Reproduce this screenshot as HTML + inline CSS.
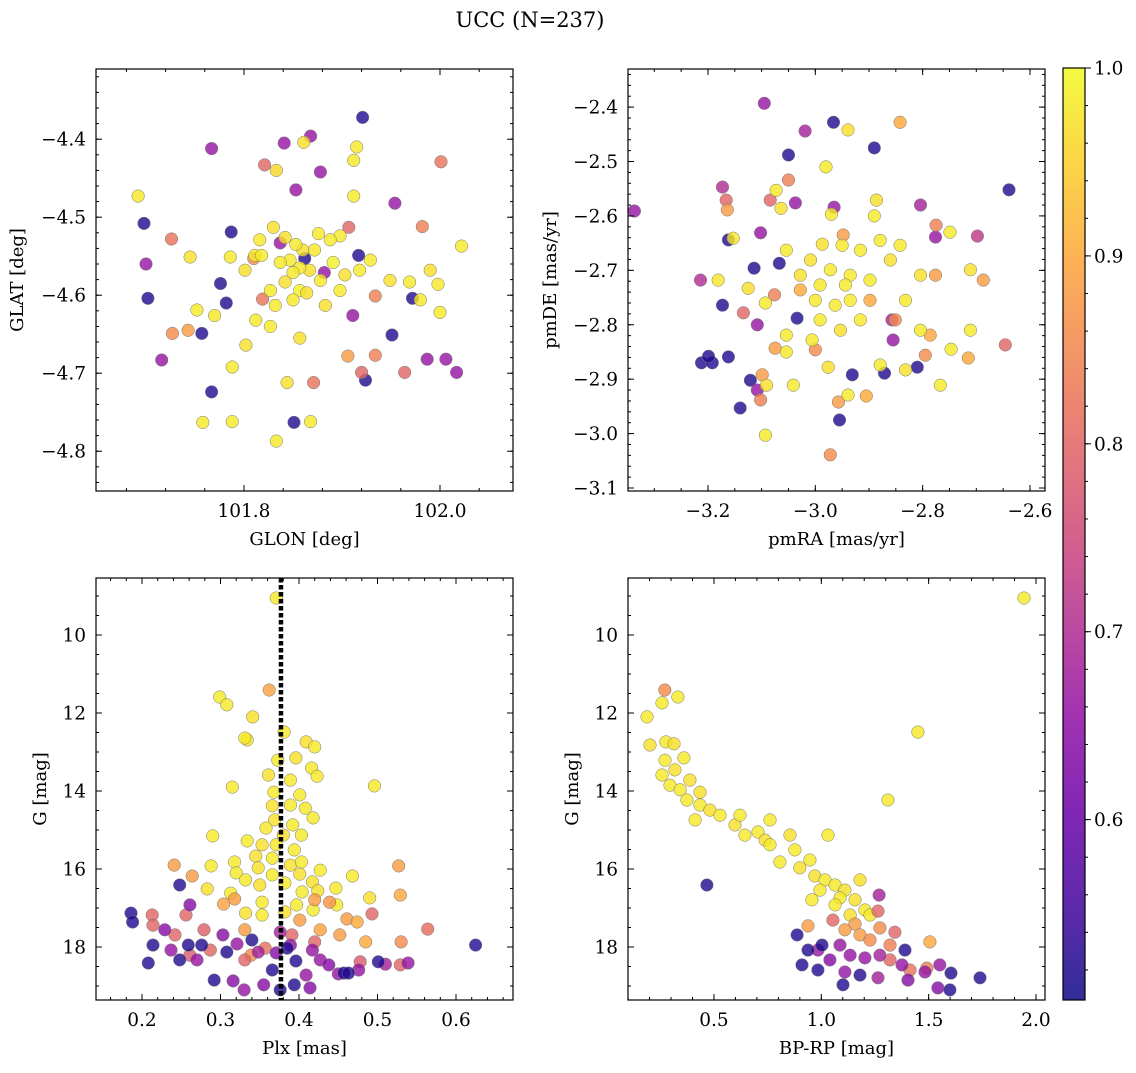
<!DOCTYPE html>
<html><head><meta charset="utf-8"><style>
html,body{margin:0;padding:0;background:#fff;}
svg text{font-family:"DejaVu Serif","Liberation Serif",serif;fill:#000;}
</style></head><body>
<svg id="fig" width="1136" height="1068" viewBox="0 0 1136 1068" xmlns="http://www.w3.org/2000/svg">
<defs>
<linearGradient id="cbgrad" x1="0" y1="1" x2="0" y2="0"></linearGradient>
</defs>
<text x="530" y="27" font-size="21" text-anchor="middle">UCC (N=237)</text>
</svg>
<script>
// ---------- data: top-left GLON/GLAT ----------
const glonTL=[101.921,101.698,101.702,101.787,101.776,101.757,101.767,101.851,101.917,101.924,101.972,101.951,101.862,101.782,
101.767,101.868,101.841,101.853,101.700,101.716,101.878,101.954,101.911,101.987,102.006,102.017,101.882,101.837,
101.821,101.726,101.907,102.001,101.982,101.871,101.920,101.934,101.819,101.727,101.964,101.934,101.906,101.810,101.743,
101.692,101.915,101.912,101.861,101.833,101.912,101.830,101.786,101.745,101.752,101.770,101.802,101.811,101.827,101.842,101.847,101.857,101.867,101.872,101.878,101.883,101.898,101.903,101.918,101.929,101.949,101.969,101.980,101.990,101.998,102.022,102.000,101.827,101.857,101.788,101.758,101.788,101.833,101.868,101.844,101.898,101.842,101.818,101.850,101.860,101.876,101.891,101.832,101.857,101.850,101.864,101.837,101.816,101.853,101.888,101.801,101.812];
const glatTL=[-4.372,-4.508,-4.604,-4.519,-4.585,-4.649,-4.724,-4.763,-4.549,-4.709,-4.604,-4.651,-4.553,-4.610,
-4.412,-4.396,-4.405,-4.465,-4.560,-4.683,-4.442,-4.482,-4.626,-4.682,-4.682,-4.699,-4.571,-4.533,
-4.433,-4.528,-4.513,-4.429,-4.512,-4.712,-4.699,-4.677,-4.605,-4.649,-4.699,-4.601,-4.678,-4.553,-4.645,
-4.473,-4.410,-4.427,-4.404,-4.440,-4.473,-4.513,-4.551,-4.551,-4.619,-4.626,-4.664,-4.549,-4.594,-4.583,-4.555,-4.594,-4.568,-4.542,-4.581,-4.613,-4.594,-4.574,-4.568,-4.555,-4.581,-4.583,-4.606,-4.568,-4.586,-4.537,-4.622,-4.640,-4.655,-4.692,-4.763,-4.762,-4.787,-4.762,-4.712,-4.524,-4.526,-4.549,-4.606,-4.542,-4.521,-4.558,-4.613,-4.565,-4.571,-4.597,-4.558,-4.529,-4.535,-4.529,-4.568,-4.632];
const probTL=[0.52,0.52,0.52,0.52,0.52,0.52,0.52,0.52,0.52,0.52,0.52,0.52,0.52,0.52,
0.66,0.66,0.66,0.66,0.66,0.66,0.66,0.66,0.66,0.66,0.66,0.66,0.66,0.66,
0.80,0.82,0.80,0.82,0.84,0.82,0.80,0.84,0.82,0.86,0.80,0.84,0.88,0.86,0.88,
0.98,0.98,0.98,0.97,0.96,0.98,0.97,0.98,0.97,0.98,0.98,0.97,0.98,0.98,0.97,0.98,0.99,0.97,0.98,0.98,0.97,0.98,0.97,0.98,0.98,0.97,0.98,0.98,0.97,0.98,0.98,0.98,0.98,0.97,0.98,0.98,0.98,0.98,0.98,0.97,0.98,0.97,0.98,0.98,0.97,0.98,0.99,0.98,0.98,0.98,0.97,0.98,0.98,0.98,0.98,0.97,0.98];
// ---------- data: top-right pmRA/pmDE ----------
const pmraTR=[-2.639,-2.966,-3.050,-2.890,-3.162,-3.173,-3.067,-3.114,-3.212,-3.192,-3.140,-3.034,-2.955,-2.931,-2.871,-2.810,-3.199,-3.162,-3.121,
-3.337,-3.095,-3.019,-3.037,-2.965,-3.173,-3.102,-3.108,-2.804,-2.776,-2.698,-3.108,-2.855,-2.857,-3.214,
-2.842,-2.939,-3.050,-3.084,-3.166,-3.164,-2.775,-2.776,-2.687,-2.646,-3.134,-3.076,-3.099,-3.102,-2.972,-2.957,-2.905,-2.795,-2.786,-3.075,-3.000,-3.028,-2.948,-2.898,-2.851,-2.715,
-2.980,-3.073,-3.064,-2.970,-2.890,-2.886,-3.153,-3.181,-3.125,-3.093,-3.054,-3.054,-3.091,-3.093,-3.041,-2.976,-2.939,-2.879,-2.832,-2.767,-2.747,-2.711,-2.711,-2.804,-2.832,-2.804,-2.842,-2.749,-2.987,-2.950,-2.916,-3.009,-2.972,-2.935,-2.898,-3.028,-3.000,-2.963,-2.935,-2.916,-2.953,-2.991,-2.879,-2.860,-3.054,-2.991,-2.944,-3.006];
const pmdeTR=[-2.552,-2.428,-2.488,-2.475,-2.644,-2.764,-2.687,-2.696,-2.870,-2.870,-2.953,-2.788,-2.975,-2.892,-2.889,-2.878,-2.858,-2.859,-2.902,
-2.591,-2.393,-2.444,-2.576,-2.584,-2.547,-2.631,-2.800,-2.580,-2.639,-2.637,-2.920,-2.828,-2.791,-2.718,
-2.428,-2.442,-2.534,-2.571,-2.571,-2.589,-2.617,-2.709,-2.718,-2.837,-2.778,-2.745,-2.892,-2.938,-3.039,-2.942,-2.931,-2.856,-2.819,-2.843,-2.846,-2.736,-2.635,-2.755,-2.791,-2.861,
-2.510,-2.553,-2.586,-2.597,-2.600,-2.571,-2.641,-2.718,-2.733,-2.760,-2.819,-2.850,-2.911,-3.003,-2.911,-2.878,-2.929,-2.874,-2.883,-2.911,-2.845,-2.699,-2.810,-2.810,-2.755,-2.709,-2.654,-2.630,-2.652,-2.654,-2.663,-2.681,-2.699,-2.709,-2.718,-2.709,-2.755,-2.764,-2.755,-2.791,-2.810,-2.791,-2.645,-2.681,-2.663,-2.727,-2.727,-2.828];
const probTR=[0.52,0.52,0.52,0.52,0.52,0.52,0.52,0.52,0.52,0.52,0.52,0.52,0.52,0.52,0.52,0.52,0.52,0.52,0.52,
0.66,0.66,0.68,0.66,0.66,0.70,0.66,0.66,0.68,0.66,0.72,0.66,0.66,0.68,0.70,
0.90,0.97,0.84,0.80,0.80,0.88,0.84,0.88,0.88,0.80,0.80,0.84,0.88,0.84,0.86,0.88,0.90,0.86,0.90,0.88,0.86,0.90,0.88,0.90,0.86,0.90,
0.98,0.98,0.97,0.98,0.98,0.97,0.98,0.98,0.97,0.98,0.98,0.98,0.97,0.98,0.98,0.97,0.98,0.98,0.97,0.98,0.98,0.97,0.98,0.98,0.98,0.97,0.98,0.98,0.97,0.98,0.98,0.97,0.98,0.98,0.98,0.97,0.98,0.98,0.98,0.98,0.97,0.98,0.98,0.97,0.98,0.98,0.98,0.98];
// ---------- data: bottom-left Plx/G ----------
const plxBL=[0.371,0.299,0.308,0.341,0.334,0.331,0.381,0.409,0.420,0.315,0.496,0.373,0.396,0.416,0.423,0.361,0.389,0.368,0.401,0.366,0.389,0.408,0.418,0.369,0.392,0.358,0.380,0.403,0.334,0.290,0.353,0.371,0.394,0.345,0.366,0.318,0.389,0.403,0.288,0.348,0.320,0.366,0.401,0.427,0.332,0.350,0.382,0.417,0.447,0.468,0.283,0.313,0.404,0.424,0.353,0.397,0.490,0.418,0.448,0.382,0.353,0.332,
0.362,0.529,0.485,0.241,0.264,0.318,0.304,0.420,0.439,0.461,0.474,0.401,0.427,0.452,0.527,0.530,0.331,0.339,
0.256,0.213,0.214,0.279,0.564,0.493,0.529,0.287,0.331,0.357,0.391,0.420,0.261,0.242,0.478,
0.229,0.237,0.261,0.270,0.321,0.303,0.348,0.371,0.389,0.427,0.438,0.450,0.409,0.414,0.476,0.510,0.539,0.376,0.417,0.355,0.330,0.316,
0.186,0.188,0.214,0.208,0.248,0.248,0.259,0.276,0.292,0.308,0.340,0.366,0.396,0.457,0.463,0.501,0.385,0.394,0.376,0.625];
const gBL=[9.05,11.59,11.79,12.10,12.69,12.64,12.49,12.74,12.87,13.90,13.87,13.21,13.15,13.41,13.62,13.59,13.72,14.03,14.10,14.38,14.36,14.44,14.69,14.74,14.87,14.95,15.13,15.13,15.28,15.15,15.38,15.38,15.51,15.67,15.72,15.82,15.90,15.82,15.92,15.97,16.10,16.15,16.13,16.03,16.28,16.41,16.36,16.33,16.49,16.18,16.51,16.62,16.59,16.56,16.85,16.92,16.74,17.05,16.92,17.10,17.18,17.13,
11.41,16.67,17.87,15.90,16.18,16.77,16.90,16.79,16.85,17.28,17.36,17.31,17.56,17.69,15.92,17.87,17.56,18.21,
17.18,17.18,17.44,17.56,17.54,17.15,18.46,18.08,18.33,18.03,17.69,17.87,18.21,17.69,18.38,
17.56,18.08,16.92,18.33,17.92,17.69,18.13,18.15,17.95,18.33,18.46,18.69,18.72,19.05,18.59,18.44,18.41,17.62,18.08,18.97,19.10,18.87,
17.13,17.36,17.95,18.41,16.41,18.33,17.95,17.95,18.85,18.13,17.82,18.59,18.36,18.67,18.67,18.38,18.03,18.97,19.10,17.95];
const probBL=[0.98,0.98,0.98,0.97,0.98,0.98,0.98,0.97,0.98,0.98,0.98,0.98,0.97,0.98,0.98,0.97,0.98,0.98,0.98,0.97,0.98,0.98,0.98,0.97,0.98,0.98,0.97,0.98,0.98,0.98,0.97,0.98,0.98,0.97,0.98,0.98,0.97,0.98,0.98,0.97,0.98,0.98,0.97,0.98,0.98,0.97,0.98,0.97,0.98,0.98,0.97,0.98,0.98,0.97,0.98,0.98,0.97,0.98,0.98,0.97,0.98,0.97,
0.89,0.90,0.90,0.88,0.88,0.88,0.89,0.88,0.87,0.88,0.90,0.88,0.89,0.88,0.88,0.86,0.88,0.86,
0.80,0.80,0.80,0.79,0.81,0.80,0.80,0.80,0.80,0.82,0.80,0.80,0.78,0.80,0.78,
0.64,0.66,0.64,0.66,0.66,0.64,0.68,0.64,0.66,0.66,0.64,0.66,0.66,0.64,0.66,0.68,0.66,0.68,0.66,0.64,0.66,0.64,
0.52,0.52,0.52,0.52,0.52,0.52,0.52,0.52,0.52,0.52,0.52,0.52,0.52,0.52,0.52,0.52,0.52,0.52,0.52,0.52];
const plxMean=0.377;
// ---------- data: bottom-right BP-RP/G ----------
const bprpBR=[1.944,1.450,1.310,0.188,0.202,0.332,0.258,0.276,0.314,0.272,0.258,0.318,0.295,0.342,0.388,0.374,0.435,0.481,0.412,0.528,0.598,0.644,0.705,0.738,0.621,0.761,0.854,0.877,0.807,0.900,0.947,1.031,0.970,1.017,1.064,1.110,0.994,1.087,1.157,1.203,1.227,1.134,1.064,0.956,0.435,0.360,0.761,1.180,
0.271,1.506,0.938,1.157,1.264,1.180,1.227,1.320,1.343,1.110,1.054,1.273,1.320,1.413,1.492,
1.269,0.984,1.087,1.040,1.134,1.203,1.273,1.376,1.404,1.483,1.543,1.552,1.264,1.110,
0.467,0.887,0.910,0.984,1.101,1.180,1.604,1.599,1.739,1.390,1.003,0.938];
const gBR=[9.05,12.49,14.23,12.10,12.82,11.59,11.74,12.74,12.79,13.21,13.59,13.46,13.85,13.97,13.72,14.23,14.36,14.49,14.74,14.62,14.87,15.13,15.05,15.26,14.62,15.38,15.13,15.51,15.82,15.97,15.77,15.13,16.18,16.28,16.41,16.54,16.54,16.74,16.79,17.05,17.18,17.18,16.92,16.79,14.03,13.15,14.74,16.28,
11.41,17.87,17.46,17.41,17.08,17.69,17.82,17.95,17.62,17.56,17.31,17.51,18.33,18.59,18.54,
16.67,18.08,17.95,18.33,18.21,18.28,18.21,18.46,18.85,18.64,19.05,18.46,18.79,18.64,
16.41,17.69,18.46,18.59,18.97,18.72,18.67,19.10,18.79,18.08,17.95,18.08];
const probBR=[0.98,0.98,0.98,0.98,0.97,0.98,0.98,0.98,0.97,0.98,0.98,0.97,0.98,0.98,0.97,0.98,0.98,0.97,0.98,0.98,0.97,0.98,0.98,0.97,0.98,0.98,0.97,0.98,0.98,0.97,0.98,0.98,0.97,0.98,0.98,0.97,0.98,0.98,0.97,0.98,0.98,0.97,0.98,0.98,0.97,0.98,0.98,0.97,
0.86,0.90,0.88,0.88,0.80,0.88,0.86,0.84,0.80,0.88,0.80,0.86,0.80,0.82,0.84,
0.68,0.66,0.66,0.64,0.66,0.66,0.68,0.66,0.64,0.66,0.64,0.66,0.68,0.66,
0.52,0.52,0.52,0.52,0.52,0.52,0.52,0.52,0.52,0.52,0.52,0.52];
// ---------- colorbar ----------
const cbTicks=[0.6,0.7,0.8,0.9,1.0];
const cbMin=0.504, cbMax=1.0;

const NS="http://www.w3.org/2000/svg";
const svg=document.getElementById('fig');
function mk(tag,attrs,parent){const e=document.createElementNS(NS,tag);for(const k in attrs)e.setAttribute(k,attrs[k]);(parent||svg).appendChild(e);return e;}
const stops2=[[0,[13,8,135]],[0.1,[65,4,157]],[0.2,[106,0,168]],[0.3,[143,13,164]],[0.4,[177,42,144]],[0.5,[204,71,120]],[0.6,[225,100,98]],[0.7,[242,132,75]],[0.8,[252,166,54]],[0.9,[252,206,37]],[1,[240,249,33]]];
function plasma(t){t=Math.max(0,Math.min(1,t));for(let i=1;i<stops2.length;i++){if(t<=stops2[i][0]){const a=stops2[i-1],b=stops2[i];const f=(t-a[0])/(b[0]-a[0]);const c=a[1].map((v,j)=>Math.round(v+(b[1][j]-v)*f));return `rgb(${c[0]},${c[1]},${c[2]})`;}}return 'rgb(240,249,33)';}
function pcol(p){return plasma((p-cbMin)/(cbMax-cbMin));}

function panel(cfg){
  const g=mk('g',{});
  
  
  const {x0,x1,y0,y1,xmin,xmax,ymin,ymax,inv}=cfg;
  const sx=v=>x0+(v-xmin)/(xmax-xmin)*(x1-x0);
  const sy=inv? (v=>y0+(v-ymin)/(ymax-ymin)*(y1-y0)) : (v=>y1-(v-ymin)/(ymax-ymin)*(y1-y0));
  const clip='clip-'+cfg.name;
  const cp=mk('clipPath',{id:clip},g);mk('rect',{x:x0,y:y0,width:x1-x0,height:y1-y0},cp);
  const pts=mk('g',{'clip-path':`url(#${clip})`},g);
  
  
  for(let i=0;i<cfg.xs.length;i++){
    const c=mk('circle',{cx:sx(cfg.xs[i]).toFixed(1),cy:sy(cfg.ys[i]).toFixed(1),r:6.3,fill:pcol(cfg.ps[i]),'fill-opacity':0.8,stroke:'#777','stroke-width':0.5},pts);
    
    
  }
  if(cfg.vline!==undefined){
    const l=mk('line',{x1:sx(cfg.vline),x2:sx(cfg.vline),y1:y0,y2:y1,stroke:'#000','stroke-width':4.5,'stroke-dasharray':'4.5,2.5'},g);
    
    
  }
  const fr=mk('rect',{x:x0,y:y0,width:x1-x0,height:y1-y0,fill:'none',stroke:'#000','stroke-width':1.2},g);
  
  
  const eps=1e-9;
  function ticks(min,max,step){const a=[];for(let v=Math.ceil(min/step-eps)*step;v<=max+eps;v+=step)a.push(+v.toFixed(6));return a;}
  const tk=mk('g',{stroke:'#000','stroke-width':1},g);
  ticks(xmin,xmax,cfg.xmin_).forEach(v=>{const x=sx(v);mk('line',{x1:x,x2:x,y1:y1,y2:y1-3},tk);mk('line',{x1:x,x2:x,y1:y0,y2:y0+3},tk);});
  ticks(xmin,xmax,cfg.xmaj).forEach(v=>{const x=sx(v);mk('line',{x1:x,x2:x,y1:y1,y2:y1-6},tk);mk('line',{x1:x,x2:x,y1:y0,y2:y0+6},tk);
    const t=mk('text',{x:x,y:y1+26,'font-size':18.5,'text-anchor':'middle'},g);t.textContent=cfg.xfmt(v);
    });
  ticks(ymin,ymax,cfg.ymin_).forEach(v=>{const y=sy(v);mk('line',{x1:x0,x2:x0+3,y1:y,y2:y},tk);mk('line',{x1:x1,x2:x1-3,y1:y,y2:y},tk);});
  ticks(ymin,ymax,cfg.ymaj).forEach(v=>{const y=sy(v);mk('line',{x1:x0,x2:x0+6,y1:y,y2:y},tk);mk('line',{x1:x1,x2:x1-6,y1:y,y2:y},tk);
    const t=mk('text',{x:x0-10,y:y+6.5,'font-size':18.5,'text-anchor':'end'},g);t.textContent=cfg.yfmt(v);
    });
  const xl=mk('text',{x:(x0+x1)/2,y:y1+54,'font-size':18,'text-anchor':'middle'},g);xl.textContent=cfg.xlabel;
  
  const yl=mk('text',{x:cfg.ylx,y:(y0+y1)/2,'font-size':18,'text-anchor':'middle',transform:`rotate(-90 ${cfg.ylx} ${(y0+y1)/2})`},g);yl.textContent=cfg.ylabel;
  
}
const neg=v=>(v<0?'\u2212':'')+Math.abs(v).toFixed(1);
panel({name:'glon-glat-panel',x0:96,x1:513,y0:69,y1:491,xmin:101.649,xmax:102.0745,ymin:-4.851,ymax:-4.310,xmaj:0.2,xmin_:0.04,ymaj:0.1,ymin_:0.02,
  xs:glonTL,ys:glatTL,ps:probTL,xfmt:v=>v.toFixed(1),yfmt:neg,xlabel:'GLON [deg]',ylabel:'GLAT [deg]',ylx:23});
panel({name:'pm-panel',x0:628,x1:1045,y0:69,y1:491,xmin:-3.349,xmax:-2.572,ymin:-3.1055,ymax:-2.330,xmaj:0.2,xmin_:0.05,ymaj:0.1,ymin_:0.02,
  xs:pmraTR,ys:pmdeTR,ps:probTR,xfmt:neg,yfmt:neg,xlabel:'pmRA [mas/yr]',ylabel:'pmDE [mas/yr]',ylx:556});
panel({name:'plx-g-panel',x0:96,x1:513,y0:578,y1:1000,xmin:0.1414,xmax:0.6726,ymin:8.538,ymax:19.359,inv:true,xmaj:0.1,xmin_:0.02,ymaj:2,ymin_:0.5,
  xs:plxBL,ys:gBL,ps:probBL,vline:plxMean,xfmt:v=>v.toFixed(1),yfmt:v=>v.toFixed(0),xlabel:'Plx [mas]',ylabel:'G [mag]',ylx:46});
panel({name:'cmd-panel',x0:628,x1:1045,y0:578,y1:1000,xmin:0.0995,xmax:2.042,ymin:8.538,ymax:19.359,inv:true,xmaj:0.5,xmin_:0.1,ymaj:2,ymin_:0.5,
  xs:bprpBR,ys:gBR,ps:probBR,xfmt:v=>v.toFixed(1),yfmt:v=>v.toFixed(0),xlabel:'BP-RP [mag]',ylabel:'G [mag]',ylx:578});

// colorbar
const grad=document.getElementById('cbgrad');
for(let i=0;i<=20;i++){mk('stop',{offset:(i/20),'stop-color':plasma(i/20),'stop-opacity':0.85},grad);}
const cbX0=1063,cbX1=1085,cbY0=68,cbY1=1000;
const cb=mk('g',{});


mk('rect',{x:cbX0,y:cbY0,width:cbX1-cbX0,height:cbY1-cbY0,fill:'url(#cbgrad)',stroke:'#000','stroke-width':1.2},cb);
const cy=v=>cbY1-(v-cbMin)/(cbMax-cbMin)*(cbY1-cbY0);
for(let v=0.52;v<=1.0001;v+=0.02){mk('line',{x1:cbX1,x2:cbX1+3,y1:cy(v),y2:cy(v),stroke:'#000'},cb);}
cbTicks.forEach(v=>{const y=cy(v);mk('line',{x1:cbX1,x2:cbX1+6,y1:y,y2:y,stroke:'#000'},cb);
  const t=mk('text',{x:cbX1+9,y:y+6.5,'font-size':18.5},cb);t.textContent=v.toFixed(1);
  });
</script>
</body></html>
